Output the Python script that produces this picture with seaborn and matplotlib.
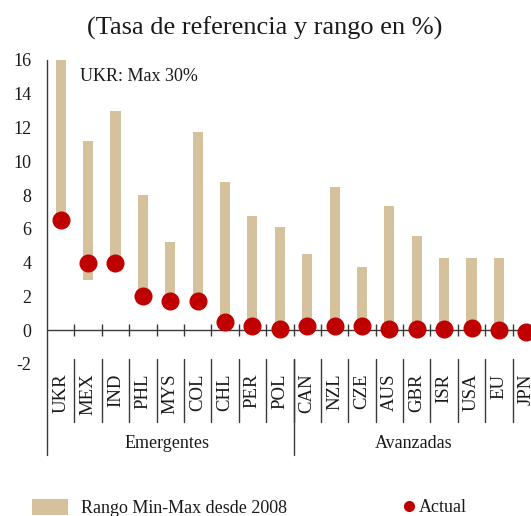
import numpy as np
import pandas as pd
import matplotlib
matplotlib.use("Agg")
import matplotlib.pyplot as plt
import matplotlib.transforms as mtransforms
from matplotlib.patches import Patch
from matplotlib.lines import Line2D
import seaborn as sns

# ---------------- data ----------------
countries = ["UKR", "MEX", "IND", "PHL", "MYS", "COL", "CHL", "PER", "POL",
             "CAN", "NZL", "CZE", "AUS", "GBR", "ISR", "USA", "EU", "JPN"]
range_min = [6.5, 3.0, 4.0, 2.0, 1.75, 1.75, 0.5, 0.25, 0.1,
             0.25, 0.25, 0.05, 0.1, 0.1, 0.1, 0.125, 0.0, -0.1]
range_max = [30.0, 11.2, 13.0, 8.0, 5.25, 11.75, 8.75, 6.75, 6.1,
             4.5, 8.5, 3.75, 7.35, 5.55, 4.3, 4.25, 4.25, 0.3]
actual = [6.5, 4.0, 4.0, 2.0, 1.75, 1.75, 0.5, 0.25, 0.1,
          0.25, 0.25, 0.25, 0.1, 0.1, 0.1, 0.125, 0.0, -0.1]
groups = ["Emergentes", "Avanzadas"]
group_sizes = [9, 9]
yticks = [-2, 0, 2, 4, 6, 8, 10, 12, 14, 16]
title = "(Tasa de referencia y rango en %)"
note = "UKR: Max 30%"
legend_range = "Rango Min-Max desde 2008"
legend_actual = "Actual"

TAN = "#D5C29C"
RED = "#C00000"
AX_COL = "#3a3a3a"
TXT = "#1a1a1a"

sns.set_style("white")
plt.rcParams["font.family"] = ["Liberation Serif", "DejaVu Serif"]
plt.rcParams["axes.unicode_minus"] = False

df = pd.DataFrame({
    "pais": countries,
    "min": range_min,
    "max": range_max,
    "actual": actual,
})
df["rango"] = df["max"] - df["min"]

fig = plt.figure(figsize=(5.31, 5.16), dpi=100)
ax = fig.add_axes([47 / 531, (516 - 364) / 516, 493 / 531, 304 / 516])

sns.barplot(data=df, x="pais", y="rango", order=countries, bottom=df["min"].values,
            color=TAN, saturation=1, width=0.37, ax=ax, zorder=2, linewidth=0)
sns.stripplot(data=df, x="pais", y="actual", order=countries, jitter=False,
              color=RED, size=13, linewidth=0, ax=ax, zorder=4, clip_on=False)

ax.set_xlim(-0.5, len(countries) - 0.5)
ax.set_ylim(-2, 16)
ax.set_xlabel("")
ax.set_ylabel("")

# y axis
ax.set_yticks(yticks)
ax.set_yticklabels([str(v) for v in yticks])
ax.tick_params(axis="y", direction="in", length=5, width=1, color=AX_COL,
               pad=11, labelsize=13, labelcolor=TXT)
# x axis labels
ax.tick_params(axis="x", length=0, pad=7, labelsize=13.5, labelcolor=TXT,
               labelrotation=90)
for lab in ax.get_xticklabels():
    lab.set_va("top")
    lab.set_ha("center")

for s in ["top", "right", "bottom", "left"]:
    ax.spines[s].set_visible(False)

# zero axis line with boundary ticks
ax.axhline(0, color=AX_COL, lw=1, zorder=3)
bounds = np.arange(0.5, len(countries) - 0.5, 1)
ax.vlines(bounds, -0.36, 0.36, color=AX_COL, lw=1, zorder=3)

# left axis line extending below plot area
trans = mtransforms.blended_transform_factory(ax.transData, ax.transAxes)
ax.plot([-0.5, -0.5], [1.0, -0.299], transform=trans, color=AX_COL, lw=1,
        clip_on=False, zorder=3)
# category separators
for b in bounds:
    ax.plot([b, b], [0.0164, -0.191], transform=trans, color=AX_COL, lw=1,
            clip_on=False)
# group separators and labels
start = -0.5
for g, n in zip(groups, group_sizes):
    end = start + n
    ax.plot([end, end], [0.0164, -0.299], transform=trans, color=AX_COL, lw=1,
            clip_on=False)
    ax.text((start + end) / 2 - 0.1, -0.26, g, transform=trans, ha="center",
            va="center", fontsize=13, color=TXT)
    start = end

ax.text(0.7, 15.0, note, ha="left", va="center", fontsize=13, color=TXT)

fig.text(265 / 531, 1 - 28 / 516, title, ha="center", va="center",
         fontsize=19, color=TXT)

# legends
h1 = Patch(facecolor=TAN, edgecolor="none")
h2 = Line2D([], [], marker="o", linestyle="none", color=RED, markersize=8,
            markeredgewidth=0)
fig.legend(handles=[h1], labels=[legend_range], loc="center left",
           bbox_to_anchor=(31.7 / 531, 1 - 508 / 516), frameon=False,
           borderpad=0, borderaxespad=0, handlelength=2.0, handleheight=0.95,
           handletextpad=0.75, fontsize=13, labelcolor=TXT)
fig.legend(handles=[h2], labels=[legend_actual], loc="center left",
           bbox_to_anchor=(403 / 531, 1 - 508 / 516), frameon=False,
           borderpad=0, borderaxespad=0, handlelength=0.65,
           handletextpad=0.2, fontsize=13, labelcolor=TXT)

fig.savefig("out.png", dpi=100)
